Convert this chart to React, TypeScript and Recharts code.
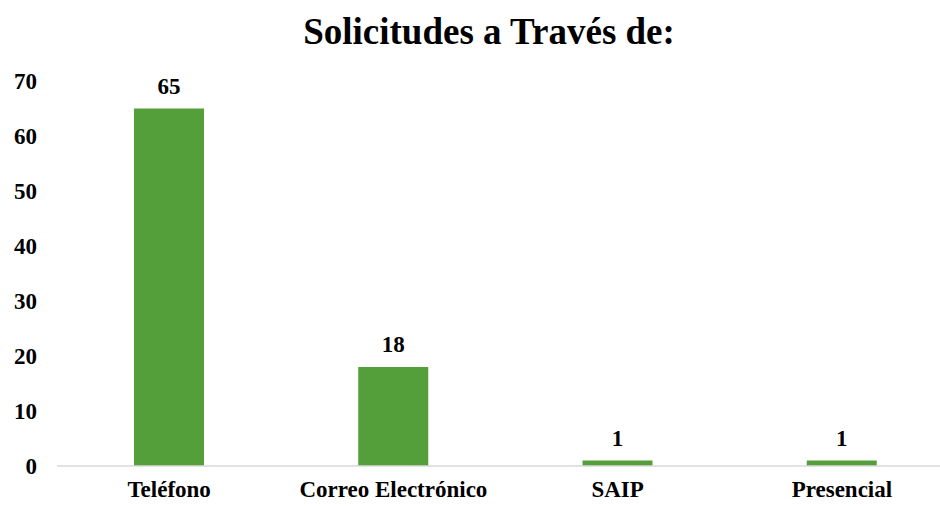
import React from 'react';
import { BarChart, Bar, XAxis, YAxis, LabelList } from 'recharts';

const canales = ['Teléfono', 'Correo Electrónico', 'SAIP', 'Presencial'];
const solicitudes = [65, 18, 1, 1];
const yTicks = [0, 10, 20, 30, 40, 50, 60, 70];

const data = canales.map((canal, i) => ({ canal, solicitudes: solicitudes[i] }));

const font = '"Liberation Serif", "Times New Roman", serif';
const tickStyle = { fontSize: 23, fontWeight: 700, fill: '#000', fontFamily: font };

export default function App() {
  return (
    <div
      style={{
        position: 'absolute',
        left: 0,
        top: 0,
        width: 940,
        height: 506,
        overflow: 'hidden',
        background: '#fff',
      }}
    >
      <div
        style={{
          position: 'absolute',
          left: 0,
          top: 10,
          width: 978,
          textAlign: 'center',
          fontFamily: font,
          fontWeight: 700,
          fontSize: 37,
          lineHeight: '44px',
          color: '#000',
        }}
      >
        Solicitudes a Través de:
      </div>
      {/* plot runs a little past the right edge, like the cropped original */}
      <BarChart
        width={960}
        height={506}
        data={data}
        margin={{ top: 81, right: 6, left: 0, bottom: 0 }}
      >
        <XAxis
          dataKey="canal"
          height={40}
          axisLine={{ stroke: '#d9d9d9', strokeWidth: 1.5 }}
          tickLine={false}
          tickSize={0}
          tickMargin={15}
          tick={tickStyle}
          interval={0}
        />
        <YAxis
          width={57}
          domain={[0, 70]}
          ticks={yTicks}
          axisLine={false}
          tickLine={false}
          tickSize={0}
          tickMargin={20}
          tick={tickStyle}
        />
        <Bar dataKey="solicitudes" fill="#559F3A" barSize={70} isAnimationActive={false}>
          <LabelList
            dataKey="solicitudes"
            position="top"
            offset={15}
            style={{ fontSize: 23, fontWeight: 700, fill: '#000', fontFamily: font }}
          />
        </Bar>
      </BarChart>
    </div>
  );
}
